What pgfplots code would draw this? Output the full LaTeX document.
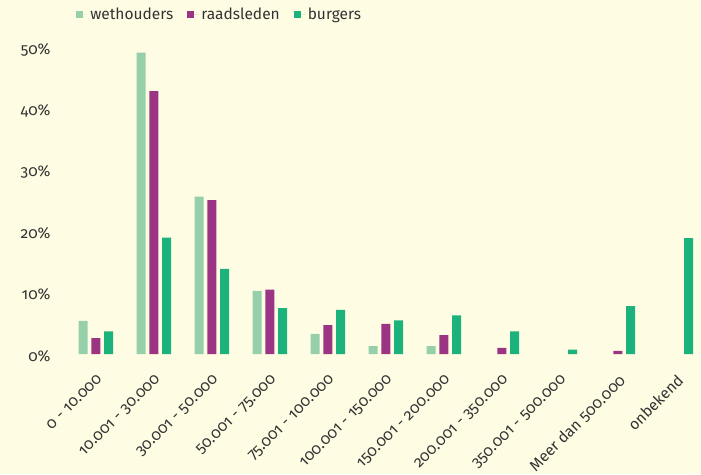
\documentclass[border=0pt]{standalone}
\usepackage{fontspec}
\setmainfont{Fira Sans}[Numbers=OldStyle]
\usepackage{pgfplots}
\pgfplotsset{compat=1.18}
\definecolor{bg}{RGB}{255,252,228}
\definecolor{weth}{RGB}{150,208,170}
\definecolor{raad}{RGB}{155,52,130}
\definecolor{burg}{RGB}{27,179,123}
\definecolor{txt}{RGB}{51,51,51}
\newcommand{\lblfont}{\fontsize{15.5}{18}\selectfont}

\begin{document}
\begin{tikzpicture}
\path[use as bounding box, fill=bg] (0,0) rectangle (701pt,474pt);
\begin{axis}[
    at={(61pt,120pt)}, anchor=south west,
    scale only axis, width=638pt, height=337pt,
    xmin=-0.6, xmax=10.4, ymin=0, ymax=55,
    axis line style={draw=none},
    ybar=3.7pt, bar width=9pt,
    major tick length=0pt,
    xtick={0,...,10},
    xticklabels={0 - 10.000, 10.001 - 30.000, 30.001 - 50.000, 50.001 - 75.000, 75.001 - 100.000, 100.001 - 150.000, 150.001 - 200.000, 200.001 - 350.000, 350.001 - 500.000, Meer dan 500.000, onbekend},
    x tick label style={rotate=45, anchor=north east, yshift=-10.5pt, xshift=-10pt},
    ytick={0,10,20,30,40,50},
    yticklabels={0\%,10\%,20\%,30\%,40\%,50\%},
    y tick label style={xshift=-7pt, yshift=-2pt},
    every tick label/.append style={font=\lblfont, text=txt},
    legend columns=3,
    legend style={draw=none, fill=none, at={(axis description cs:0.019,1.007)}, anchor=west,
        font=\lblfont, text=txt, /tikz/every even column/.append style={column sep=12pt}},
    legend image code/.code={\fill[#1] (0pt,-3.5pt) rectangle (7pt,3.5pt); \path (0pt,0pt) -- (12pt,0pt);},
]
\addplot[fill=weth, draw=none] coordinates {(0,5.4) (1,49.2) (2,25.7) (3,10.3) (4,3.3) (5,1.3) (6,1.3)};
\addplot[fill=raad, draw=none] coordinates {(0,2.6) (1,42.9) (2,25.1) (3,10.5) (4,4.7) (5,4.9) (6,3.1) (7,1.0) (9,0.5)};
\addplot[fill=burg, draw=none] coordinates {(0,3.7) (1,19.0) (2,13.9) (3,7.5) (4,7.2) (5,5.5) (6,6.3) (7,3.7) (8,0.7) (9,7.8) (10,18.9)};
\legend{wethouders, raadsleden, burgers}
\end{axis}
\end{tikzpicture}
\end{document}
